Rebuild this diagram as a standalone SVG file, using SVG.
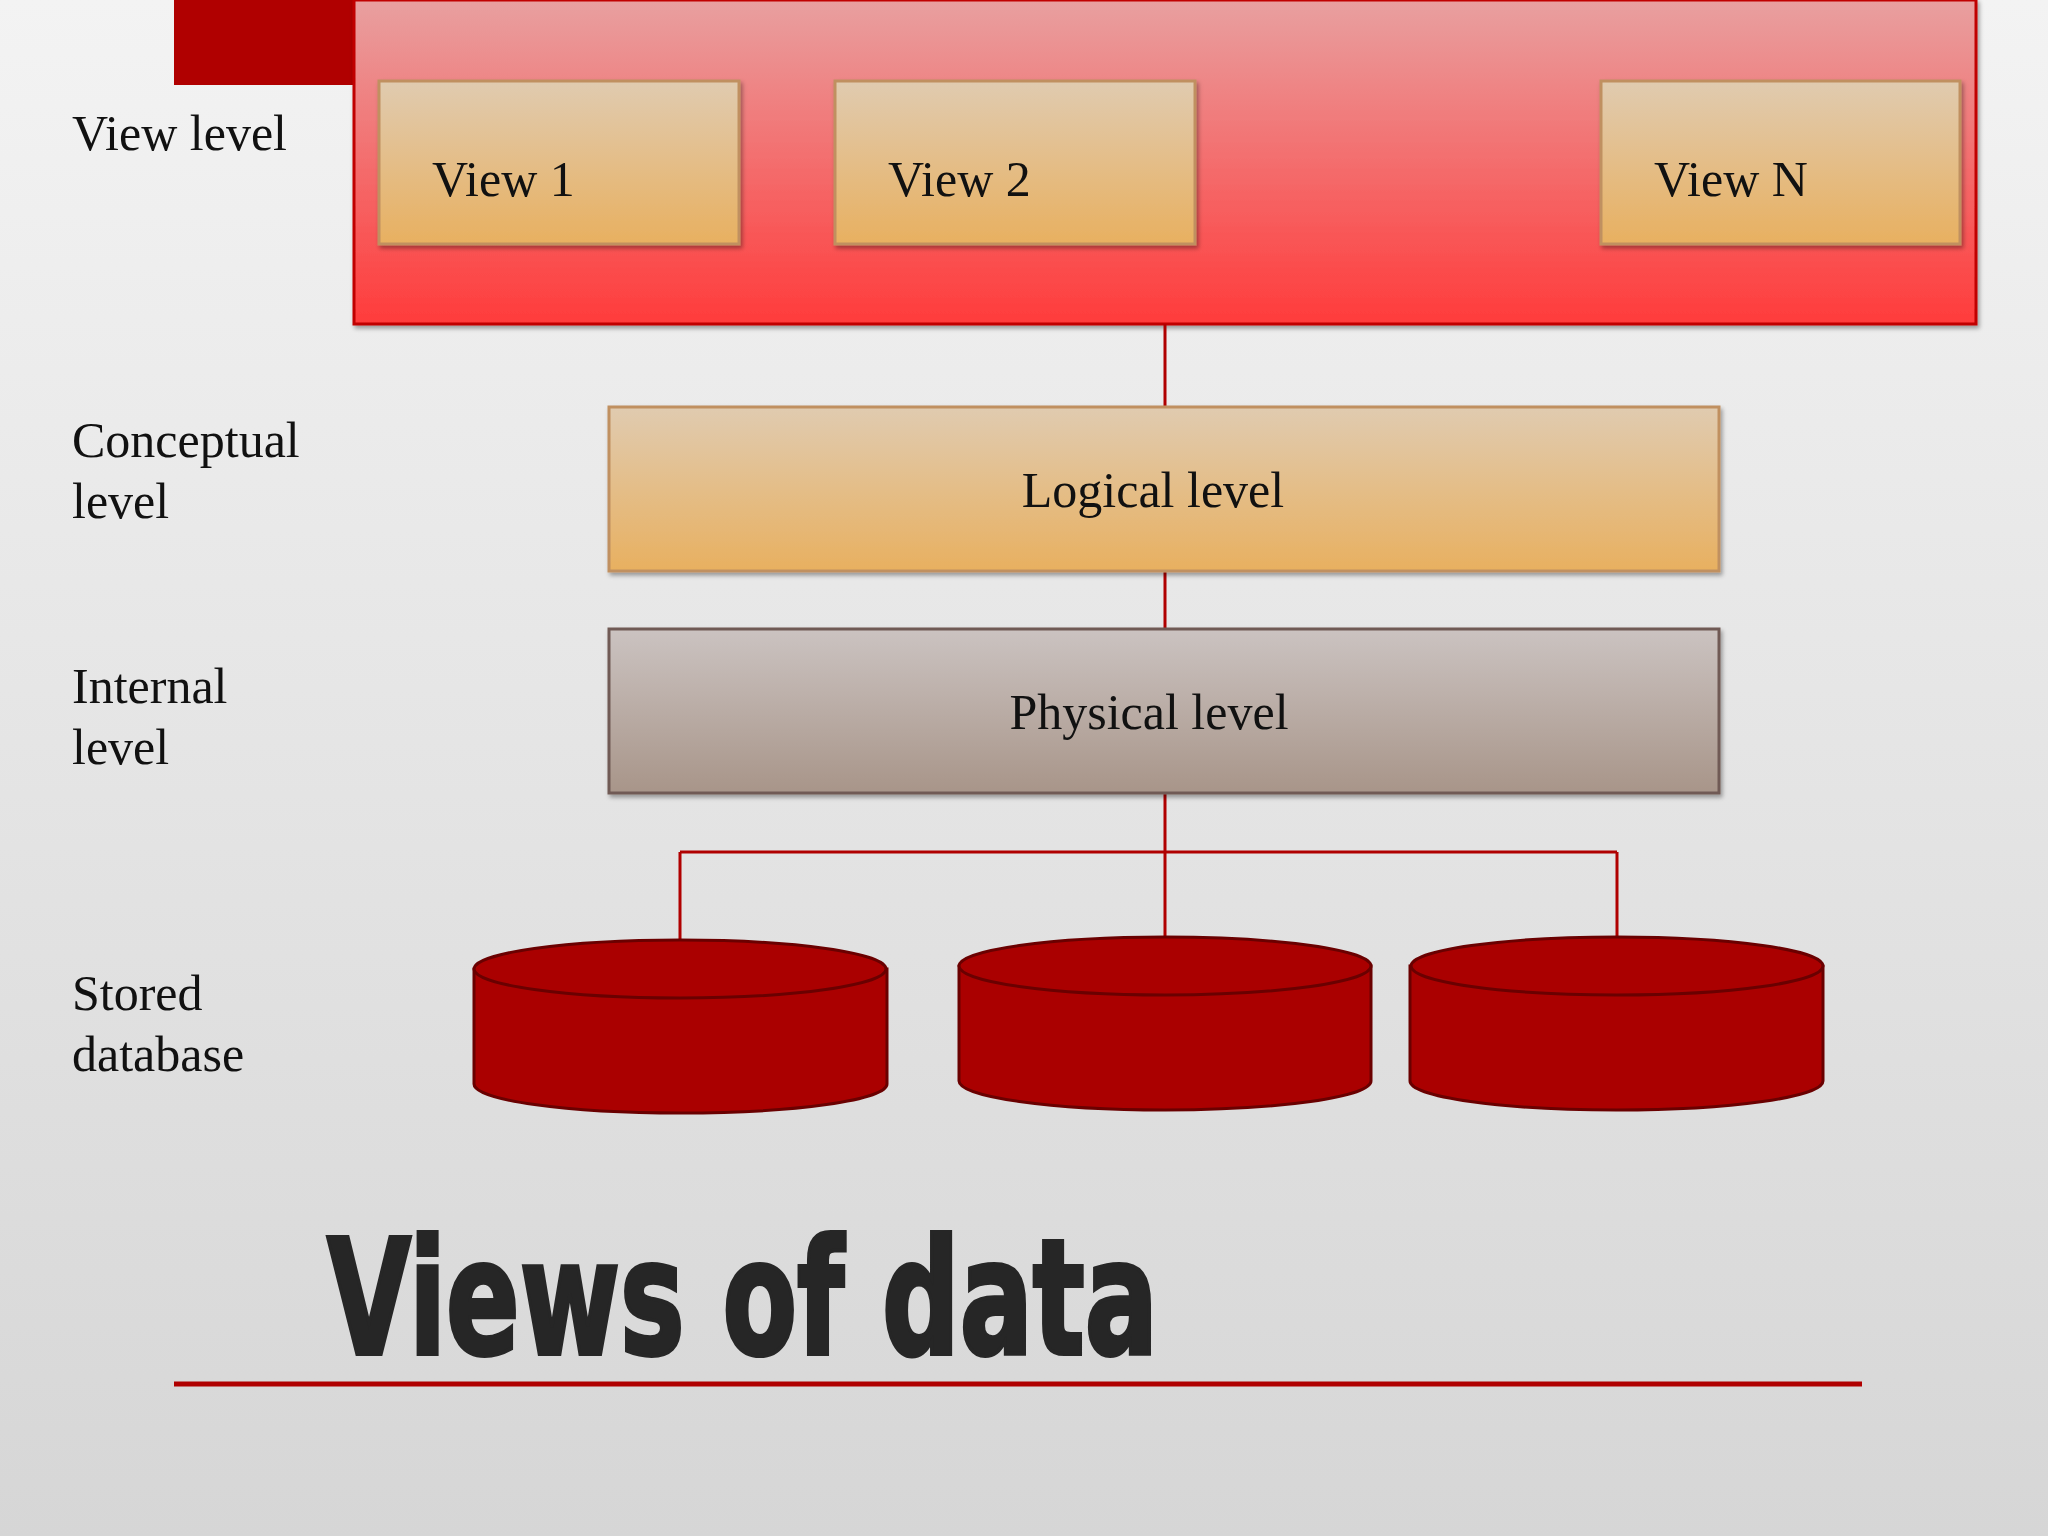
<svg xmlns="http://www.w3.org/2000/svg" width="2048" height="1536" viewBox="0 0 2048 1536">
<defs>
<linearGradient id="bg" x1="0" y1="0" x2="0" y2="1"><stop offset="0" stop-color="#f3f3f3"/><stop offset="1" stop-color="#d6d6d6"/></linearGradient>
<linearGradient id="red" x1="0" y1="0" x2="0" y2="1"><stop offset="0" stop-color="#e8a0a0"/><stop offset="1" stop-color="#ff3b3b"/></linearGradient>
<linearGradient id="tan" x1="0" y1="0" x2="0" y2="1"><stop offset="0" stop-color="#e0cbb0"/><stop offset="1" stop-color="#e8b060"/></linearGradient>
<linearGradient id="grey" x1="0" y1="0" x2="0" y2="1"><stop offset="0" stop-color="#cbc3c1"/><stop offset="1" stop-color="#a89589"/></linearGradient>
<filter id="sh" x="-5%" y="-5%" width="110%" height="120%"><feDropShadow dx="2" dy="3" stdDeviation="2" flood-opacity="0.35"/></filter>
</defs>
<style>
.lbl{font-family:"Liberation Serif",serif;font-size:50px;fill:#111}
.box{font-family:"Liberation Serif",serif;font-size:50px;fill:#111}
.con{stroke:#b00000;stroke-width:3;fill:none}
.cyl{fill:#aa0000;stroke:#6a0000;stroke-width:3}
</style>
<rect width="2048" height="1536" fill="url(#bg)"/>
<g id="tab"><rect x="174" y="0" width="180" height="85" fill="#b00000"/></g>
<g id="viewlevel"><rect x="354" y="0" width="1622" height="324" fill="url(#red)" stroke="#c00000" stroke-width="3" filter="url(#sh)"/></g>
<g id="view1"><rect x="379" y="81" width="360" height="163" fill="url(#tan)" stroke="#c09060" stroke-width="3" filter="url(#sh)"/><text class="box" x="432" y="196">View 1</text></g>
<g id="view2"><rect x="835" y="81" width="360" height="163" fill="url(#tan)" stroke="#c09060" stroke-width="3" filter="url(#sh)"/><text class="box" x="888" y="196">View 2</text></g>
<g id="viewN"><rect x="1601" y="81" width="359" height="163" fill="url(#tan)" stroke="#c09060" stroke-width="3" filter="url(#sh)"/><text class="box" x="1654" y="196">View N</text></g>
<g id="connectors">
<path class="con" d="M1165 324V407M1165 571V629M1165 793V937M680 852H1617M680 852V940M1617 852V937"/>
</g>
<g id="logical"><rect x="609" y="407" width="1110" height="164" fill="url(#tan)" stroke="#c09060" stroke-width="3" filter="url(#sh)"/><text class="box" x="1153" y="507" text-anchor="middle">Logical level</text></g>
<g id="physical"><rect x="609" y="629" width="1110" height="164" fill="url(#grey)" stroke="#705a55" stroke-width="3" filter="url(#sh)"/><text class="box" x="1149" y="729" text-anchor="middle">Physical level</text></g>
<g id="db1"><path class="cyl" d="M474 969V1084A206 29 0 0 0 887 1084V969Z"/><ellipse class="cyl" cx="680" cy="969" rx="206" ry="29"/></g>
<g id="db2"><path class="cyl" d="M959 966V1081A206 29 0 0 0 1371 1081V966Z"/><ellipse class="cyl" cx="1165" cy="966" rx="206" ry="29"/></g>
<g id="db3"><path class="cyl" d="M1410 966V1081A206 29 0 0 0 1823 1081V966Z"/><ellipse class="cyl" cx="1617" cy="966" rx="206" ry="29"/></g>
<g id="labels">
<text class="lbl" x="72" y="150">View level</text>
<text class="lbl" x="72" y="457">Conceptual</text><text class="lbl" x="72" y="518">level</text>
<text class="lbl" x="72" y="703">Internal</text><text class="lbl" x="72" y="764">level</text>
<text class="lbl" x="72" y="1010">Stored</text><text class="lbl" x="72" y="1071">database</text>
</g>
<g id="title">
<text x="327" y="1354" font-family="'DejaVu Sans Condensed','DejaVu Sans',sans-serif" font-weight="900" font-size="160" fill="#262626" stroke="#262626" stroke-width="4" textLength="831" lengthAdjust="spacingAndGlyphs">Views of data</text>
<line x1="174" y1="1384" x2="1862" y2="1384" stroke="#b00000" stroke-width="5"/>
</g>
</svg>
